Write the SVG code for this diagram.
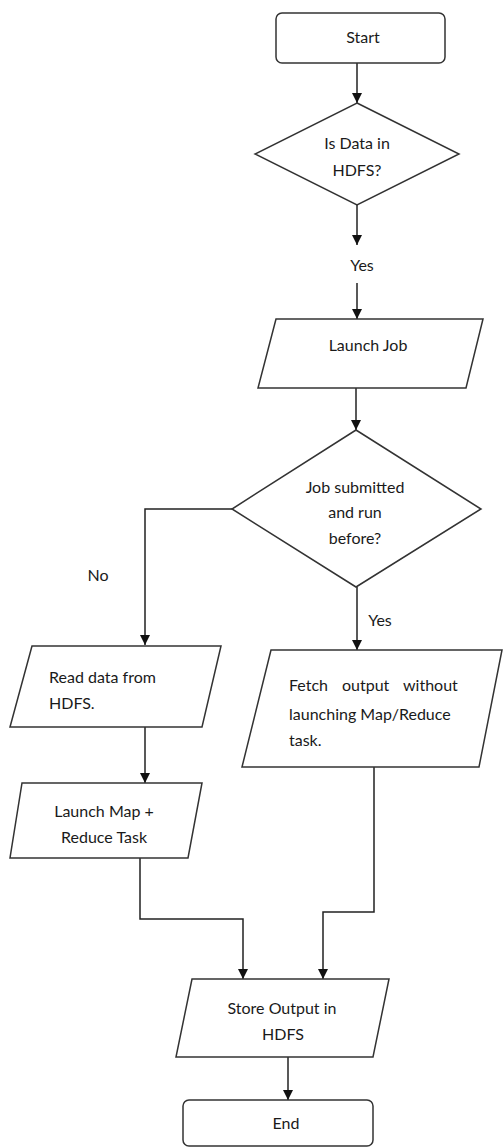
<svg xmlns="http://www.w3.org/2000/svg" width="503" height="1148" viewBox="0 0 503 1148">
<style>
.s{fill:#fff;stroke:#333;stroke-width:1.5}
.c{fill:none;stroke:#222;stroke-width:1.5}
text{font-family:Lato,"Liberation Sans",sans-serif;font-size:16px;fill:#1a1a1a}
.m{text-anchor:middle}
</style>
<defs>
<marker id="ar" markerWidth="11" markerHeight="11" refX="10" refY="5" orient="auto" markerUnits="userSpaceOnUse" viewBox="0 0 11 11">
<path d="M0,0 L10,5 L0,10 Z" fill="#111"/>
</marker>
</defs>
<g id="connectors">
<path class="c" d="M357,63 V103" marker-end="url(#ar)"/>
<path class="c" d="M357,205 V245" marker-end="url(#ar)"/>
<path class="c" d="M357,283 V319" marker-end="url(#ar)"/>
<path class="c" d="M356,388 V430" marker-end="url(#ar)"/>
<path class="c" d="M232,509 H145 V645" marker-end="url(#ar)"/>
<path class="c" d="M357,587 V650" marker-end="url(#ar)"/>
<path class="c" d="M145,727 V783" marker-end="url(#ar)"/>
<path class="c" d="M140,858 V919 H243 V979" marker-end="url(#ar)"/>
<path class="c" d="M374,767 V912 H323 V979" marker-end="url(#ar)"/>
<path class="c" d="M288,1057 V1100" marker-end="url(#ar)"/>
<text x="362" y="271" class="m">Yes</text>
<text x="380" y="626" class="m">Yes</text>
<text x="98" y="581" class="m">No</text>
</g>
<g id="start">
<rect class="s" x="276" y="13" width="169" height="50" rx="6"/>
<text x="363" y="43" class="m">Start</text>
</g>
<g id="dataInHdfs">
<polygon class="s" points="357,103 459,154 357,205 255,154"/>
<text x="357" y="149" class="m">Is Data in</text>
<text x="357" y="176" class="m">HDFS?</text>
</g>
<g id="launchJob">
<polygon class="s" points="276,319 483,319 466,388 258,388"/>
<text x="368" y="351" class="m">Launch Job</text>
</g>
<g id="submittedBefore">
<polygon class="s" points="356,430 481,509 356,587 232,509"/>
<text x="355" y="493" class="m">Job submitted</text>
<text x="355" y="518" class="m">and run</text>
<text x="355" y="544" class="m">before?</text>
</g>
<g id="readData">
<polygon class="s" points="32,646 221,646 202,727 10,727"/>
<text x="49" y="683">Read data from</text>
<text x="49" y="709">HDFS.</text>
</g>
<g id="launchMapReduce">
<polygon class="s" points="22,783 202,783 188,858 10,858"/>
<text x="104" y="817" class="m">Launch Map +</text>
<text x="104" y="843" class="m">Reduce Task</text>
</g>
<g id="fetchOutput">
<polygon class="s" points="271,650 502,650 479,767 242,767"/>
<text y="691"><tspan x="289">Fetch</tspan><tspan x="342">output</tspan><tspan x="403">without</tspan></text>
<text x="289" y="720">launching Map/Reduce</text>
<text x="289" y="746">task.</text>
</g>
<g id="storeOutput">
<polygon class="s" points="192,979 389,979 373,1057 176,1057"/>
<text x="282" y="1014" class="m">Store Output in</text>
<text x="283" y="1040" class="m">HDFS</text>
</g>
<g id="end">
<rect class="s" x="183" y="1100" width="190" height="46" rx="6"/>
<text x="286" y="1129" class="m">End</text>
</g>
</svg>
